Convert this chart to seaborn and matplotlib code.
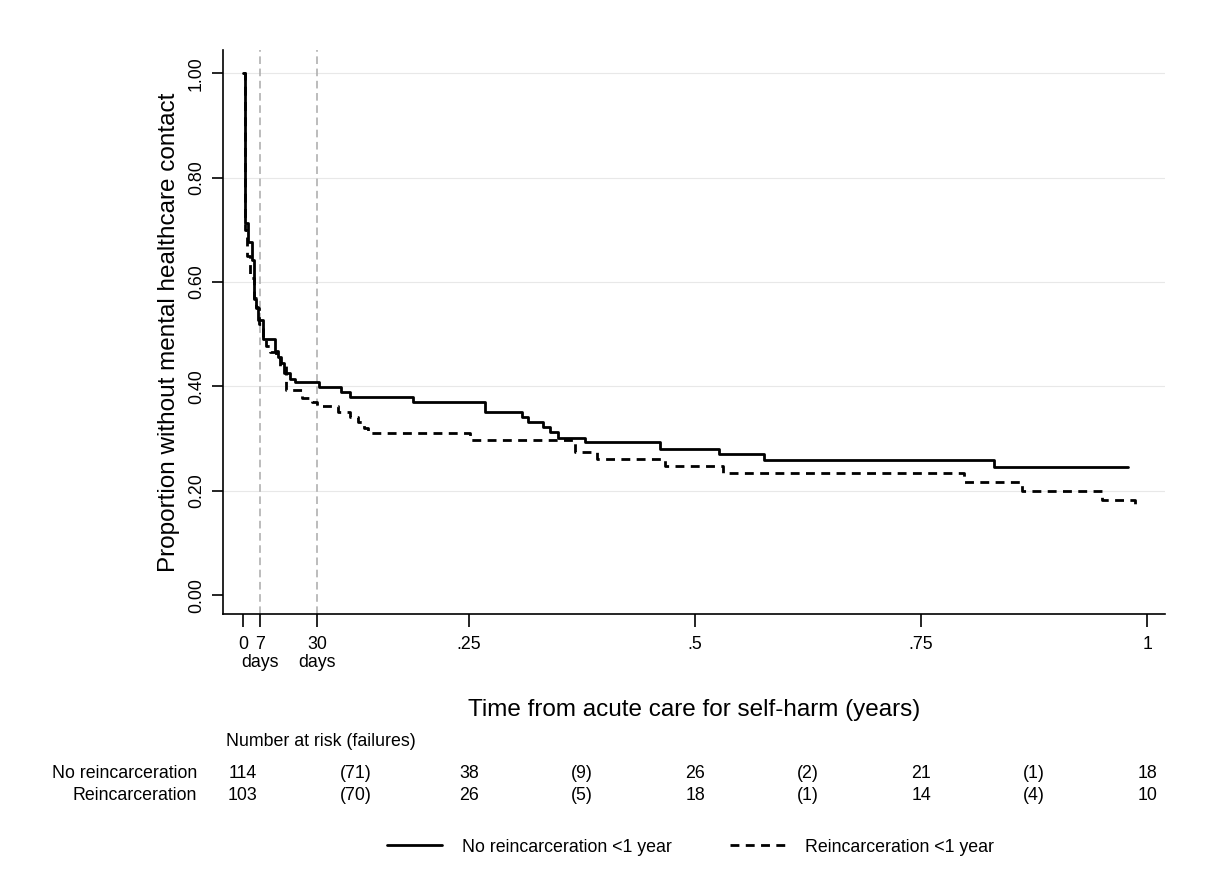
import matplotlib
matplotlib.use("Agg")
import matplotlib.pyplot as plt
import matplotlib.transforms as mtransforms
from matplotlib.lines import Line2D
import seaborn as sns
import pandas as pd

# ---- data (time in years, survival proportion) ----
no_reinc_time = [0.0, 0.002, 0.006, 0.0095, 0.012, 0.015, 0.017, 0.0225, 0.0355, 0.0385,
                 0.042, 0.0455, 0.052, 0.0575, 0.084, 0.109, 0.118, 0.188, 0.268, 0.309,
                 0.315, 0.332, 0.340, 0.348, 0.378, 0.461, 0.526, 0.576, 0.830, 0.979]
no_reinc_surv = [1.000, 0.713, 0.677, 0.642, 0.568, 0.552, 0.527, 0.490, 0.468, 0.457,
                 0.444, 0.425, 0.415, 0.408, 0.399, 0.389, 0.380, 0.370, 0.351, 0.342,
                 0.332, 0.322, 0.313, 0.302, 0.294, 0.281, 0.270, 0.259, 0.246, 0.246]

reinc_time = [0.0, 0.002, 0.005, 0.008, 0.012, 0.015, 0.018, 0.022, 0.026, 0.030,
              0.037, 0.041, 0.048, 0.065, 0.076, 0.082, 0.105, 0.118, 0.127, 0.134,
              0.138, 0.251, 0.367, 0.391, 0.467, 0.531, 0.797, 0.861, 0.950, 0.985, 0.987]
reinc_surv = [1.000, 0.700, 0.650, 0.607, 0.570, 0.550, 0.520, 0.493, 0.478, 0.466,
              0.455, 0.440, 0.393, 0.377, 0.370, 0.363, 0.351, 0.342, 0.332, 0.320,
              0.311, 0.298, 0.2745, 0.2605, 0.247, 0.234, 0.217, 0.200, 0.183, 0.183, 0.168]

group_labels = ["No reincarceration <1 year", "Reincarceration <1 year"]
risk_row_labels = ["No reincarceration", "Reincarceration"]
risk_times = [0, 0.125, 0.25, 0.375, 0.5, 0.625, 0.75, 0.875, 1.0]
risk_no_reinc = ["114", "(71)", "38", "(9)", "26", "(2)", "21", "(1)", "18"]
risk_reinc = ["103", "(70)", "26", "(5)", "18", "(1)", "14", "(4)", "10"]

xtick_vals = [0, 7 / 365, 30 / 365, 0.25, 0.5, 0.75, 1.0]
xtick_labels = ["0", "7", "30", ".25", ".5", ".75", "1"]
days_label_vals = [7 / 365, 30 / 365]
days_label = "days"
ytick_vals = [0.0, 0.2, 0.4, 0.6, 0.8, 1.0]
ytick_labels = ["0.00", "0.20", "0.40", "0.60", "0.80", "1.00"]
ref_lines = [7 / 365, 30 / 365]

sns.set_style("white")
plt.rcParams["font.family"] = ["Liberation Sans", "DejaVu Sans"]
plt.rcParams["text.color"] = "black"
plt.rcParams["axes.labelcolor"] = "black"
plt.rcParams["xtick.color"] = "black"
plt.rcParams["ytick.color"] = "black"

TICK_FS = 12.8
LAB_FS = 17.5
DASH = (0, (3.2, 2.3))

df = pd.concat([
    pd.DataFrame({"t": no_reinc_time, "s": no_reinc_surv, "g": group_labels[0]}),
    pd.DataFrame({"t": reinc_time, "s": reinc_surv, "g": group_labels[1]}),
])

fig = plt.figure(figsize=(12.05, 8.8), dpi=100)
ax = fig.add_axes([0.185, 0.302, 0.782, 0.641])

for yv in ytick_vals[1:]:
    ax.axhline(yv, color="#e8e8e8", lw=0.8, zorder=0)
for xv in ref_lines:
    ax.axvline(xv, color="#aaaaaa", lw=1.1, ls=(0, (5, 3)), zorder=1)

sns.lineplot(data=df[df.g == group_labels[0]], x="t", y="s", ax=ax, color="black",
             lw=2.0, drawstyle="steps-post", estimator=None, sort=False, legend=False)
sns.lineplot(data=df[df.g == group_labels[1]], x="t", y="s", ax=ax, color="black",
             lw=2.0, drawstyle="steps-post", estimator=None, sort=False, legend=False,
             linestyle=DASH)

ax.set_xlim(-0.0221, 1.0199)
ax.set_ylim(-0.0364, 1.044)
ax.set_xticks(xtick_vals)
ax.set_xticklabels(xtick_labels, fontsize=TICK_FS)
ax.set_yticks(ytick_vals)
ax.set_yticklabels(ytick_labels, fontsize=TICK_FS, rotation=90, va="center")
ax.tick_params(axis="x", direction="out", length=9, width=1.2, color="black",
               bottom=True, pad=7)
ax.tick_params(axis="y", direction="out", length=8, width=1.2, color="black",
               left=True, pad=5)
for sp in ["top", "right"]:
    ax.spines[sp].set_visible(False)
for sp in ["left", "bottom"]:
    ax.spines[sp].set_color("black")
    ax.spines[sp].set_linewidth(1.2)

ax.set_xlabel("")
ax.set_ylabel("Proportion without mental healthcare contact", fontsize=LAB_FS, labelpad=6)

trans = mtransforms.blended_transform_factory(ax.transData, fig.transFigure)
for xv in days_label_vals:
    ax.text(xv, 1 - 662 / 880, days_label, transform=trans, fontsize=TICK_FS,
            ha="center", va="center", clip_on=False)

fig.text(694 / 1205, 1 - 710 / 880, "Time from acute care for self-harm (years)",
         fontsize=LAB_FS, ha="center", va="center")

# risk table
fig.text(226 / 1205, 1 - 741 / 880, "Number at risk (failures)", fontsize=TICK_FS,
         ha="left", va="center")
for row_label, vals, ypix in [(risk_row_labels[0], risk_no_reinc, 773),
                              (risk_row_labels[1], risk_reinc, 795)]:
    fig.text(197 / 1205, 1 - ypix / 880, row_label, fontsize=TICK_FS, ha="right", va="center")
    for t, v in zip(risk_times, vals):
        ax.text(t, 1 - ypix / 880, v, transform=trans, fontsize=TICK_FS, ha="center",
                va="center", clip_on=False)

# legend
handles = [Line2D([], [], color="black", lw=2.0),
           Line2D([], [], color="black", lw=2.0, ls=DASH)]
fig.legend(handles, group_labels, loc="center", bbox_to_anchor=(0.573, 1 - 847 / 880),
           ncol=2, frameon=False, fontsize=TICK_FS, handlelength=3.1, handletextpad=1.1,
           columnspacing=3.3)

fig.savefig("out.png", dpi=100)
